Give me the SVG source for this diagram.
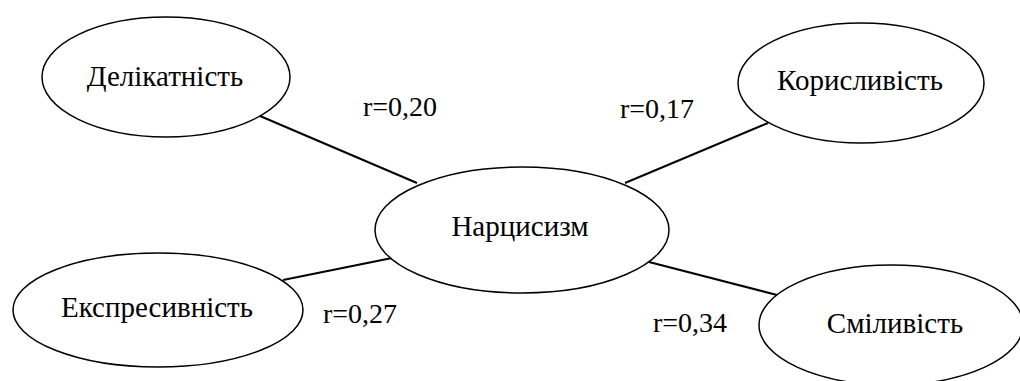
<svg xmlns="http://www.w3.org/2000/svg" width="1020" height="381" viewBox="0 0 1020 381">
<style>
.n{fill:#fff;stroke:#000;stroke-width:1.5}
.c{stroke:#000;stroke-width:2;fill:none}
</style>
<rect width="1020" height="381" fill="#fff"/>
<g id="connectors">
<line class="c" x1="260" y1="116" x2="417" y2="183"/>
<line class="c" x1="768" y1="123" x2="625" y2="183"/>
<line class="c" x1="283" y1="280" x2="392" y2="258"/>
<line class="c" x1="649" y1="262" x2="777" y2="295"/>
</g>
<g id="node-delikatnist"><ellipse class="n" cx="166" cy="77" rx="124" ry="60"/><text x="165" y="86" font-family="Liberation Serif" font-size="29" text-anchor="middle">Делікатність</text></g>
<g id="node-koryslyvist"><ellipse class="n" cx="861" cy="83" rx="123" ry="60"/><text x="860" y="90" font-family="Liberation Serif" font-size="29" text-anchor="middle">Корисливість</text></g>
<g id="node-ekspresyvnist"><ellipse class="n" cx="158" cy="310" rx="145" ry="57"/><text x="157" y="317" font-family="Liberation Serif" font-size="29" text-anchor="middle">Експресивність</text></g>
<g id="node-smilyvist"><ellipse class="n" cx="891" cy="325" rx="132" ry="60"/><text x="895" y="333" font-family="Liberation Serif" font-size="29" text-anchor="middle">Сміливість</text></g>
<g id="node-narcysyzm"><ellipse class="n" cx="522" cy="230" rx="147" ry="63"/><text x="520" y="236" font-family="Liberation Serif" font-size="29" text-anchor="middle">Нарцисизм</text></g>
<g id="labels">
<text x="363" y="116" font-family="Liberation Serif" font-size="28">r=0,20</text>
<text x="620" y="118" font-family="Liberation Serif" font-size="28">r=0,17</text>
<text x="323" y="323" font-family="Liberation Serif" font-size="28">r=0,27</text>
<text x="653" y="332" font-family="Liberation Serif" font-size="28">r=0,34</text>
</g>
</svg>
